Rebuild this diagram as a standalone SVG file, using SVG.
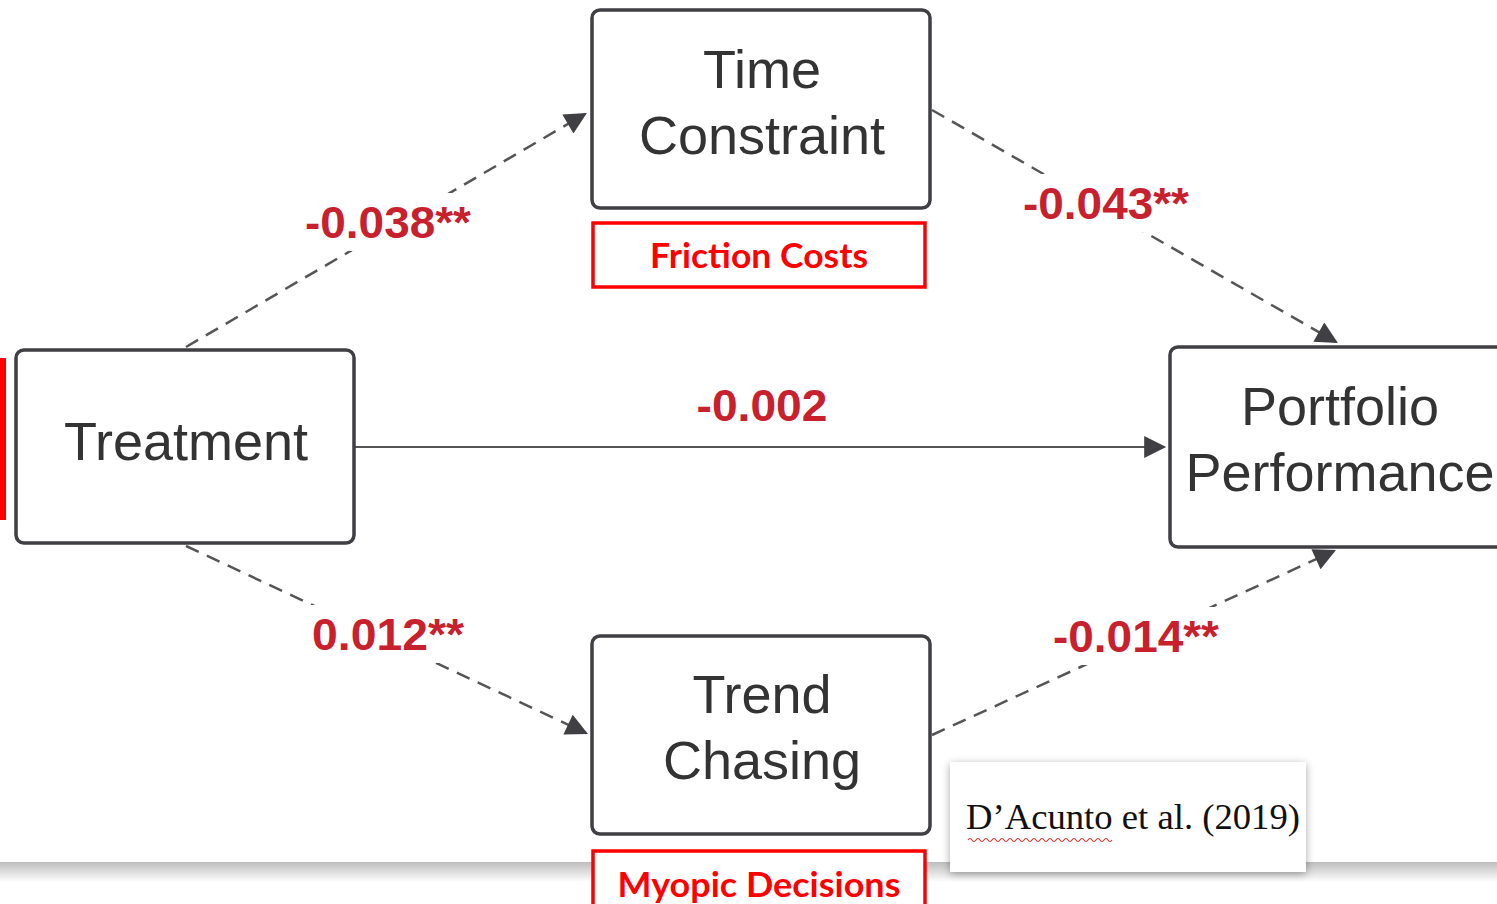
<svg xmlns="http://www.w3.org/2000/svg" width="1497" height="904" viewBox="0 0 1497 904">
<style>
.node{fill:#fff;stroke:#3f3f44;stroke-width:3.5}
.nt{font-family:"Liberation Sans",Arial,sans-serif;font-size:54px;fill:#333;text-anchor:middle}
.red{fill:#fff;stroke:#ff0000;stroke-width:3.5}
.rt{font-family:Lato,"Open Sans",sans-serif;font-weight:bold;font-size:35px;fill:#ff0000;text-anchor:middle}
.lab{font-family:"Liberation Sans",Arial,sans-serif;font-weight:bold;font-size:44px;fill:#c8202c;text-anchor:middle}
.dash{fill:none;stroke:#555;stroke-width:2.5;stroke-dasharray:14 9}
.solid{fill:none;stroke:#555;stroke-width:2.2}
.lbg{fill:#fff}
</style>
<defs>
<marker id="ah2" viewBox="0 0 10 10" refX="9" refY="5" markerWidth="26" markerHeight="22" markerUnits="userSpaceOnUse" orient="auto">
<path d="M0,0 L10,5 L0,10 z" fill="#3f3f44"/>
</marker>
<linearGradient id="band" x1="0" y1="0" x2="0" y2="1">
<stop offset="0" stop-color="#bdbdbd"/>
<stop offset="1" stop-color="#ffffff"/>
</linearGradient>
<filter id="sh" x="-10%" y="-10%" width="120%" height="130%">
<feGaussianBlur in="SourceAlpha" stdDeviation="4"/>
<feOffset dy="2"/>
<feComponentTransfer><feFuncA type="linear" slope="0.35"/></feComponentTransfer>
<feMerge><feMergeNode/><feMergeNode in="SourceGraphic"/></feMerge>
</filter>
</defs>
<rect width="1497" height="904" fill="#fff"/>
<rect x="0" y="862" width="1497" height="20" fill="url(#band)"/>
<rect x="0" y="358" width="6" height="162" fill="#ff0000"/>

<g id="connectors">
<path class="dash" d="M186,347 L585,114" marker-end="url(#ah2)"/>
<path class="dash" d="M932,110 L1336,342" marker-end="url(#ah2)"/>
<path class="solid" d="M355,447 L1164,447" marker-end="url(#ah2)"/>
<path class="dash" d="M186,546 L586,733" marker-end="url(#ah2)"/>
<path class="dash" d="M932,735 L1334,551" marker-end="url(#ah2)"/>
<rect class="lbg" x="298" y="193" width="182" height="58"/>
<text class="lab" x="388" y="238" textLength="166" lengthAdjust="spacingAndGlyphs">-0.038**</text>
<rect class="lbg" x="1015" y="174" width="182" height="58"/>
<text class="lab" x="1106" y="219" textLength="166" lengthAdjust="spacingAndGlyphs">-0.043**</text>
<text class="lab" x="762" y="421" textLength="131" lengthAdjust="spacingAndGlyphs">-0.002</text>
<rect class="lbg" x="304" y="605" width="168" height="58"/>
<text class="lab" x="388" y="650" textLength="152" lengthAdjust="spacingAndGlyphs">0.012**</text>
<rect class="lbg" x="1045" y="607" width="182" height="58"/>
<text class="lab" x="1136" y="652" textLength="166" lengthAdjust="spacingAndGlyphs">-0.014**</text>
</g>

<g id="time-constraint">
<rect class="node" x="592" y="10" width="338" height="198" rx="8"/>
<text class="nt" x="762" y="88">Time</text>
<text class="nt" x="762" y="154">Constraint</text>
</g>
<g id="friction-costs">
<rect class="red" x="593" y="223" width="332" height="64"/>
<text class="rt" x="759" y="268" textLength="218" lengthAdjust="spacingAndGlyphs">Friction Costs</text>
</g>
<g id="treatment">
<rect class="node" x="16" y="350" width="338" height="193" rx="8"/>
<text class="nt" x="186" y="460">Treatment</text>
</g>
<g id="portfolio-performance">
<rect class="node" x="1170" y="347" width="345" height="200" rx="8"/>
<text class="nt" x="1340" y="425">Portfolio</text>
<text class="nt" x="1340" y="491">Performance</text>
</g>
<g id="trend-chasing">
<rect class="node" x="592" y="636" width="338" height="198" rx="8"/>
<text class="nt" x="762" y="713">Trend</text>
<text class="nt" x="762" y="779">Chasing</text>
</g>
<g id="myopic-decisions">
<rect class="red" x="593" y="851" width="332" height="70"/>
<text class="rt" x="759" y="897" textLength="283" lengthAdjust="spacingAndGlyphs">Myopic Decisions</text>
</g>
<g id="citation">
<rect x="950" y="762" width="356" height="110" fill="#fff" filter="url(#sh)"/>
<text x="966" y="829" font-family="'Liberation Serif','Times New Roman',serif" font-size="36.5" fill="#111" textLength="334" lengthAdjust="spacingAndGlyphs">D’Acunto et al. (2019)</text>
<path d="M968,840 q2,-3 4,0 t4,0 t4,0 t4,0 t4,0 t4,0 t4,0 t4,0 t4,0 t4,0 t4,0 t4,0 t4,0 t4,0 t4,0 t4,0 t4,0 t4,0 t4,0 t4,0 t4,0 t4,0 t4,0 t4,0 t4,0 t4,0 t4,0 t4,0 t4,0 t4,0 t4,0 t4,0 t4,0 t4,0 t4,0 t4,0" fill="none" stroke="#d33" stroke-width="1.2"/>
</g>
</svg>
